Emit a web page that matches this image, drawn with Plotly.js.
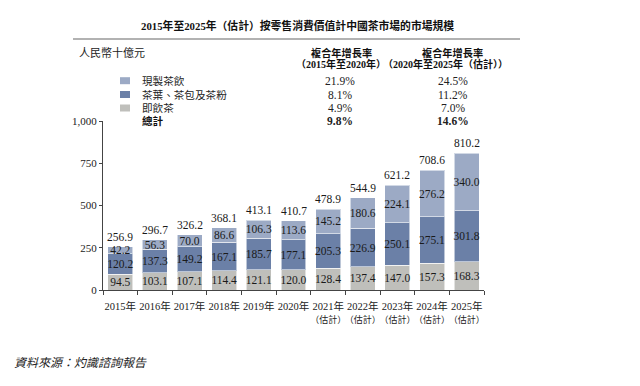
<!DOCTYPE html>
<html>
<head>
<meta charset="utf-8">
<script src="https://cdn.plot.ly/plotly-3.0.1.min.js"></script>
<style>html,body{margin:0;padding:0;background:#fff;}#chart{width:640px;height:386px;}</style>
</head>
<body>
<div id="chart"></div>
<script>
// ---- data ----
const categories = ['2015年','2016年','2017年','2018年','2019年','2020年','2021年（估計）','2022年（估計）','2023年（估計）','2024年（估計）','2025年（估計）'];
const readyToDrink = [94.5,103.1,107.1,114.4,121.1,120.0,128.4,137.4,147.0,157.3,168.3];   // 即飲茶
const teaLeaves = [120.2,137.3,149.2,167.1,185.7,177.1,205.3,226.9,250.1,275.1,301.8];      // 茶葉、茶包及茶粉
const freshTea = [42.2,56.3,70.0,86.6,106.3,113.6,145.2,180.6,224.1,276.2,340.0];           // 現製茶飲
const totals = [256.9,296.7,326.2,368.1,413.1,410.7,478.9,544.9,621.2,708.6,810.2];
const seriesNames = ['現製茶飲','茶葉、茶包及茶粉','即飲茶'];
const cagr1520 = ['21.9%','8.1%','4.9%','9.8%'];
const cagr2025 = ['24.5%','11.2%','7.0%','14.6%'];
const yTickVals = [0,250,500,750,1000];
const yTickText = ['0','250','500','750','1,000'];

const colors = {fresh:'#9caac5', leaves:'#6b80a7', rtd:'#bfbfbb'};
const SERIF = '"Liberation Serif","Times New Roman","Noto Sans CJK TC",serif';
const CJK = '"Liberation Serif","Noto Sans CJK TC",serif';

// x tick labels: split the estimate note onto a second, slightly smaller line
const xTickText = categories.map(c => c.replace('（估計）', '<br><span style="font-size:9px">（估計）</span>'));

// plot area in pixels
const L = 103, R = 484, T = 121, B = 290;
const px = x => (x - L) / (R - L);
const py = y => (B - y) / (B - T);

function barTrace(vals, name, color) {
  return {
    type:'bar', x:categories, y:vals, name:name,
    marker:{color:color, line:{color:'rgba(255,255,255,0.55)', width:1}},
    texttemplate:'%{y:.1f}', textposition:'inside', insidetextanchor:'middle',
    textangle:0, constraintext:'none',
    textfont:{family:SERIF, size:11.5, color:'#1a1a1a'},
    hoverinfo:'skip', showlegend:false
  };
}

const traces = [
  barTrace(readyToDrink, seriesNames[2], colors.rtd),
  barTrace(teaLeaves, seriesNames[1], colors.leaves),
  barTrace(freshTea, seriesNames[0], colors.fresh)
];

const annotations = [];
const shapes = [];
// totals above bars (data coordinates)
categories.forEach((c, i) => {
  annotations.push({x:c, y:totals[i], xref:'x', yref:'y', text:totals[i].toFixed(1),
    showarrow:false, xanchor:'center', yanchor:'bottom', yshift:2,
    font:{family:SERIF, size:11.5, color:'#1a1a1a'}});
});
function txt(x, y, text, opts={}) {
  annotations.push(Object.assign({
    xref:'paper', yref:'paper', x:px(x), y:py(y), text:text, showarrow:false,
    xanchor:'center', yanchor:'middle',
    font:{family:CJK, size:11, color:'#1a1a1a'}
  }, opts));
}
// title
txt(297, 25, '<b>2015年至2025年（估計）按零售消費價值計中國茶市場的市場規模</b>', {font:{family:CJK, size:10.8, color:'#111'}});
shapes.push({type:'line', xref:'paper', yref:'paper', x0:px(73), x1:px(520), y0:py(39), y1:py(39), line:{color:'#666', width:1.2}});
txt(77, 53, '人民幣十億元', {xanchor:'left', font:{family:CJK, size:11, color:'#222'}});
// CAGR headers
txt(341, 53, '<b>複合年增長率</b>', {font:{family:CJK, size:10.2, color:'#111'}});
txt(452, 53, '<b>複合年增長率</b>', {font:{family:CJK, size:10.2, color:'#111'}});
txt(341, 64, '<b>（2015年至2020年）</b>', {font:{family:CJK, size:10, color:'#111'}});
txt(445, 64, '<b>（2020年至2025年（估計））</b>', {font:{family:CJK, size:10, color:'#111'}});
// legend rows
const rowY = [80.7, 94.5, 108, 121];
const legendColors = [colors.fresh, colors.leaves, colors.rtd];
for (let i = 0; i < 3; i++) {
  shapes.push({type:'rect', xref:'paper', yref:'paper', x0:px(120), x1:px(130), y0:py(rowY[i]-3.5), y1:py(rowY[i]+3.5), fillcolor:legendColors[i], line:{width:0}});
  txt(140, rowY[i], seriesNames[i], {xanchor:'left', font:{family:CJK, size:10.6, color:'#222'}});
}
txt(140, rowY[3], '<b>總計</b>', {xanchor:'left', font:{family:CJK, size:10.6, color:'#111'}});
for (let i = 0; i < 4; i++) {
  const bold = i === 3;
  txt(340, rowY[i], bold ? '<b>'+cagr1520[i]+'</b>' : cagr1520[i], {font:{family:SERIF, size:11.5, color:'#222'}});
  txt(453, rowY[i], bold ? '<b>'+cagr2025[i]+'</b>' : cagr2025[i], {font:{family:SERIF, size:11.5, color:'#222'}});
}
// source
txt(12, 363, '<i>資料來源：灼識諮詢報告</i>', {xanchor:'left', font:{family:CJK, size:12, color:'#222'}});

const layout = {
  width:640, height:386,
  margin:{l:L, r:640-R, t:T, b:386-B, pad:0},
  paper_bgcolor:'#fff', plot_bgcolor:'#fff',
  barmode:'stack', bargap:0.28,
  xaxis:{type:'category', showline:true, linecolor:'#444', linewidth:1,
         tickmode:'array', tickvals:categories, ticktext:xTickText,
         ticks:'outside', tickson:'boundaries', ticklen:4, tickcolor:'#444',
         tickangle:0, ticklabelstandoff:6, showgrid:false, zeroline:false,
         tickfont:{family:CJK, size:10.5, color:'#222'}, fixedrange:true},
  yaxis:{range:[0,1000], tickvals:yTickVals, ticktext:yTickText,
         showline:true, linecolor:'#444', linewidth:1,
         ticks:'outside', ticklen:3, tickcolor:'#444',
         showgrid:false, zeroline:false,
         tickfont:{family:SERIF, size:11, color:'#222'}, fixedrange:true},
  annotations:annotations, shapes:shapes,
  showlegend:false
};
Plotly.newPlot('chart', traces, layout, {displayModeBar:false, staticPlot:true});
</script>
</body>
</html>
